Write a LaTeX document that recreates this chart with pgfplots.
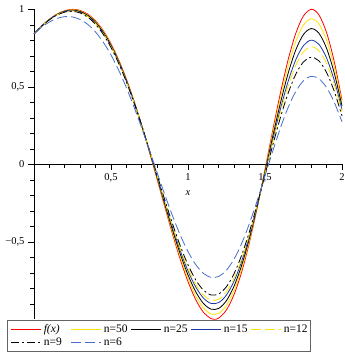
\documentclass[border=0pt]{standalone}
\usepackage{fontspec}
\setmainfont{Liberation Serif}
\usepackage{pgfplots}
\pgfplotsset{compat=1.18}
\usepackage{pgfplotstable}
\definecolor{myred}{RGB}{255,0,0}
\definecolor{myyellow}{RGB}{255,228,0}
\definecolor{myblue}{RGB}{30,55,165}
\definecolor{mylblue}{RGB}{70,110,200}
\definecolor{legframe}{RGB}{100,100,100}

\pgfplotstableread{
x f
0.00 0.8415
0.05 0.8923
0.10 0.9356
0.15 0.9694
0.20 0.9914
0.25 1.0000
0.30 0.9929
0.35 0.9685
0.40 0.9252
0.45 0.8620
0.50 0.7781
0.55 0.6736
0.60 0.5494
0.65 0.4069
0.70 0.2490
0.75 0.0790
0.80 -0.0982
0.85 -0.2772
0.90 -0.4515
0.95 -0.6138
1.00 -0.7568
1.05 -0.8728
1.10 -0.9546
1.15 -0.9960
1.1708 -1.0000
1.20 -0.9919
1.25 -0.9393
1.30 -0.8378
1.35 -0.6894
1.40 -0.4997
1.45 -0.2770
1.50 -0.0332
1.55 0.2175
1.60 0.4589
1.65 0.6738
1.70 0.8452
1.75 0.9578
1.8025 1.0000
1.85 0.9642
1.90 0.8494
1.95 0.6611
2.00 0.4121
}\tabf

\pgfplotstableread{
x n50 n25 n15 n12 n9 n6
0.00 0.8415 0.8415 0.8415 0.8415 0.8415 0.8415
0.05 0.8920 0.8918 0.8915 0.8913 0.8911 0.8843
0.10 0.9349 0.9343 0.9335 0.9330 0.9322 0.9179
0.15 0.9682 0.9669 0.9654 0.9645 0.9632 0.9413
0.20 0.9895 0.9876 0.9853 0.9840 0.9818 0.9526
0.25 0.9974 0.9947 0.9916 0.9897 0.9869 0.9507
0.30 0.9896 0.9861 0.9821 0.9798 0.9762 0.9341
0.35 0.9645 0.9604 0.9555 0.9528 0.9484 0.9019
0.40 0.9207 0.9160 0.9105 0.9074 0.9025 0.8531
0.45 0.8572 0.8521 0.8462 0.8429 0.8377 0.7876
0.50 0.7732 0.7681 0.7622 0.7590 0.7538 0.7053
0.55 0.6691 0.6643 0.6589 0.6559 0.6512 0.6070
0.60 0.5457 0.5418 0.5375 0.5350 0.5313 0.4939
0.65 0.4046 0.4021 0.3993 0.3980 0.3958 0.3682
0.70 0.2486 0.2481 0.2478 0.2478 0.2478 0.2325
0.75 0.0813 0.0833 0.0861 0.0879 0.0907 0.0900
0.80 -0.0928 -0.0875 -0.0810 -0.0770 -0.0707 -0.0549
0.85 -0.2682 -0.2592 -0.2481 -0.2417 -0.2314 -0.1979
0.90 -0.4385 -0.4253 -0.4094 -0.4002 -0.3854 -0.3337
0.95 -0.5965 -0.5791 -0.5580 -0.5460 -0.5267 -0.4573
1.00 -0.7354 -0.7137 -0.6875 -0.6726 -0.6488 -0.5634
1.05 -0.8476 -0.8220 -0.7912 -0.7737 -0.7457 -0.6469
1.10 -0.9264 -0.8975 -0.8629 -0.8433 -0.8120 -0.7035
1.15 -0.9658 -0.9347 -0.8977 -0.8768 -0.8431 -0.7297
1.20 -0.9612 -0.9294 -0.8917 -0.8703 -0.8361 -0.7231
1.25 -0.9098 -0.8792 -0.8428 -0.8223 -0.7893 -0.6828
1.30 -0.8116 -0.7841 -0.7517 -0.7334 -0.7037 -0.6100
1.35 -0.6688 -0.6467 -0.6207 -0.6061 -0.5823 -0.5072
1.40 -0.4867 -0.4724 -0.4556 -0.4461 -0.4305 -0.3791
1.45 -0.2737 -0.2692 -0.2639 -0.2609 -0.2556 -0.2323
1.50 -0.0411 -0.0481 -0.0564 -0.0610 -0.0678 -0.0748
1.55 0.1974 0.1779 0.1549 0.1419 0.1218 0.0840
1.60 0.4264 0.3943 0.3563 0.3348 0.3013 0.2344
1.65 0.6300 0.5860 0.5339 0.5046 0.4582 0.3662
1.70 0.7921 0.7382 0.6744 0.6385 0.5814 0.4704
1.75 0.8985 0.8380 0.7662 0.7257 0.6610 0.5392
1.80 0.9388 0.8757 0.8010 0.7586 0.6907 0.5673
1.85 0.9063 0.8459 0.7740 0.7332 0.6673 0.5523
1.90 0.8002 0.7481 0.6856 0.6500 0.5919 0.4949
1.95 0.6259 0.5877 0.5414 0.5147 0.4704 0.3996
2.00 0.3958 0.3764 0.3521 0.3377 0.3125 0.2743
}\tabn

\begin{document}
\fontsize{11.5}{13.5}\selectfont
\begin{tikzpicture}
\begin{axis}[
  scale only axis, width=308pt, height=310pt,
  xmin=0, xmax=2, ymin=-1, ymax=1,
  axis lines=middle,
  axis line style={-, line width=0.8pt, black},
  xtick={0.5,1,1.5,2}, xticklabels={{0,5},1,{1,5},2},
  ytick={-0.5,0,0.5,1}, yticklabels={{−0,5},0,{0,5},1},
  minor xtick={0.1,0.2,0.3,0.4,0.6,0.7,0.8,0.9,1.1,1.2,1.3,1.4,1.6,1.7,1.8,1.9},
  minor ytick={-0.9,-0.8,-0.7,-0.6,-0.4,-0.3,-0.2,-0.1,0.1,0.2,0.3,0.4,0.6,0.7,0.8,0.9},
  hide obscured y ticks=false,
  tick align=outside,
  major tick length=5.5pt, minor tick length=3.5pt,
  tick style={black, line width=0.6pt},
  ticklabel style={font=\fontsize{10.5}{12}\selectfont},
  xlabel={\textit{x}},
  xlabel style={at={(axis description cs:0.5,0.5)}, anchor=center, yshift=-28.5pt, font=\fontsize{10.5}{12}\selectfont},
  clip=false,
  legend columns=5,
  legend cell align=left,
  legend style={at={(axis description cs:0,0)}, anchor=north west, xshift=-26.7pt, yshift=-0.7pt,
    draw=legframe, line width=1pt,
    /tikz/every even column/.append style={column sep=3pt}},
  legend image code/.code={\draw[#1, line width=1pt] (0pt,0pt) -- (30pt,0pt);},
  every axis plot/.append style={line width=0.8pt, smooth},
]
\addplot[color=myred] table[x=x, y=f] {\tabf};
\addlegendentry{\makebox[22pt][l]{\textit{f(x)}}}
\addplot[color=myyellow] table[x=x, y=n50] {\tabn};
\addlegendentry{\makebox[22pt][l]{n=50}}
\addplot[color=black] table[x=x, y=n25] {\tabn};
\addlegendentry{\makebox[22pt][l]{n=25}}
\addplot[color=myblue] table[x=x, y=n15] {\tabn};
\addlegendentry{\makebox[22pt][l]{n=15}}
\addplot[color=myyellow, dash pattern=on 10pt off 4pt] table[x=x, y=n12] {\tabn};
\addlegendentry{\makebox[22pt][l]{n=12}}
\addplot[color=black, dash pattern=on 8pt off 3pt on 2pt off 3pt] table[x=x, y=n9] {\tabn};
\addlegendentry{\makebox[22pt][l]{n=9}}
\addplot[color=mylblue, dash pattern=on 10pt off 4pt] table[x=x, y=n6] {\tabn};
\addlegendentry{\makebox[22pt][l]{n=6}}
\end{axis}
\pgfresetboundingbox
\path (-34pt,-34.7pt) rectangle (311pt,319.3pt);
\end{tikzpicture}
\end{document}
